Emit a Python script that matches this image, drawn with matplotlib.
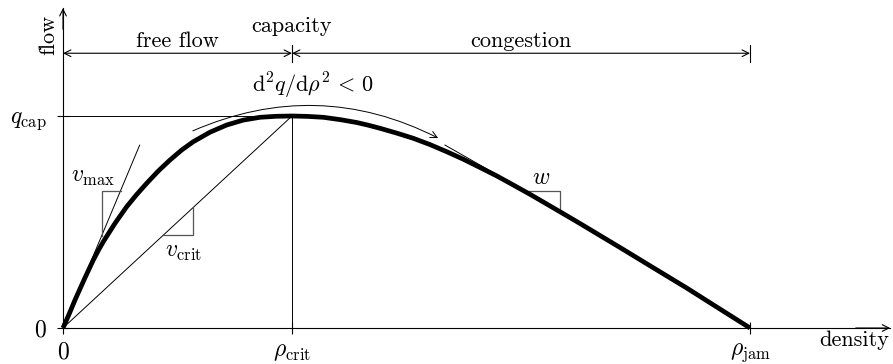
import matplotlib
matplotlib.use('Agg')
import matplotlib.pyplot as plt

plt.rcParams['font.family'] = ['cmr10']
plt.rcParams['mathtext.fontset'] = 'cm'
plt.rcParams['axes.unicode_minus'] = False
plt.rcParams['font.size'] = 16

# density scaled by rho_jam, flow scaled by q_cap
rho_crit = 1 / 3
rho_jam = 1.0
q_cap = 1.0

# thick fundamental diagram
rho_free = [0, 0.00902, 0.01747, 0.03086, 0.04410, 0.05138, 0.05866, 0.07569, 0.09272,
            0.10728, 0.12183, 0.13872, 0.15575, 0.17278, 0.18967, 0.21397, 0.23828,
            0.26245, 0.28675, 0.31033, 0.3333]
q_free = [0, 0.0665, 0.1321, 0.2288, 0.3208, 0.3656, 0.4071, 0.4939, 0.5722,
          0.6297, 0.6825, 0.7406, 0.7925, 0.8396, 0.8788, 0.9236, 0.9575,
          0.9807, 0.9939, 0.9986, 1.0]
rho_cong = [0.3333, 0.35604, 0.37889, 0.40320, 0.42751, 0.44440, 0.46143, 0.48574,
            0.50990, 0.53421, 0.55852, 0.58268, 0.60699, 0.63130, 0.65546, 0.67977,
            0.70408, 0.72824, 0.75255, 0.78166, 0.81077, 0.85924, 0.90786, 0.95386, 1.0]
q_cong = [1.0, 0.9981, 0.9939, 0.9830, 0.9693, 0.9566, 0.9420, 0.9193,
          0.8948, 0.8651, 0.8316, 0.7962, 0.7571, 0.7175, 0.6745, 0.6307,
          0.5849, 0.5392, 0.4929, 0.4363, 0.3797, 0.2842, 0.1887, 0.0943, 0.0]

# slopes
v_max = 7.73
v_crit = q_cap / rho_crit
w = 1.847
w_rho0, w_q0, w_rho1 = 0.556, 0.863, 0.7234   # tangent in congestion
vmax_tri = (0.0563, 0.0837)
vcrit_tri = (0.146, 0.1897)
w_tri_q = 0.6476

x_ticks = [0, rho_crit, rho_jam]
x_labels = ['$0$', r'$\rho_{\mathrm{crit}}$', r'$\rho_{\mathrm{jam}}$']
y_ticks = [0, q_cap]
y_labels = ['$0$', r'$q_{\mathrm{cap}}$']
regimes = ['free flow', 'capacity', 'congestion']

q_top = 1.296
x_end = 1.204
y_end = 1.509

fig = plt.figure(figsize=(8.93, 3.64), dpi=100)
ax = fig.add_axes([0, 0, 1, 1])
ax.set_xlim(-63 / 687, 830 / 687)
ax.set_ylim(-36 / 212, 328 / 212)

ax.spines[['top', 'right']].set_visible(False)
ax.spines['left'].set_position(('data', 0))
ax.spines['bottom'].set_position(('data', 0))
ax.spines['left'].set_bounds(0, y_end)
ax.spines['bottom'].set_bounds(0, x_end)
for s in ['left', 'bottom']:
    ax.spines[s].set_linewidth(0.8)
ax.set_xticks(x_ticks, labels=x_labels)
ax.set_yticks(y_ticks, labels=y_labels)
ax.tick_params(direction='inout', length=9, width=0.8, labelsize=17)
ax.tick_params(axis='x', pad=5)
ax.tick_params(axis='y', pad=7)
ax.patch.set_visible(False)

arr = dict(arrowstyle='->', lw=0.8, shrinkA=0, shrinkB=0, mutation_scale=12, color='black')
ax.annotate('', xy=(x_end, 0), xytext=(x_end - 0.05, 0), arrowprops=arr)
ax.annotate('', xy=(0, y_end), xytext=(0, y_end - 0.1), arrowprops=arr)

thin = dict(color='black', lw=0.7)
gray = dict(color='#555555', lw=0.9)

# helper lines at capacity
ax.plot([0, rho_crit], [q_cap, q_cap], **thin)
ax.plot([rho_crit, rho_crit], [0, q_cap], **thin)

# v_max tangent and triangle
ax.plot([0, 0.1116], [0, v_max * 0.1116], **thin)
a, b = vmax_tri
ax.plot([a, a, b], [v_max * a, v_max * b, v_max * b], **gray)
ax.text(0.0437, 0.712, r'$v_{\max}$', ha='center', va='center', fontsize=17)

# v_crit secant and triangle
ax.plot([0, rho_crit], [0, q_cap], **thin)
a, b = vcrit_tri
ax.plot([a, b, b], [v_crit * a, v_crit * a, v_crit * b], **gray)
ax.text(0.176, 0.36, r'$v_{\mathrm{crit}}$', ha='center', va='center', fontsize=17)

# w tangent and triangle
ax.plot([w_rho0, w_rho1], [w_q0, w_q0 - w * (w_rho1 - w_rho0)], **thin)
r0 = w_rho0 + (w_q0 - w_tri_q) / w
ax.plot([r0, w_rho1, w_rho1], [w_tri_q, w_tri_q, w_q0 - w * (w_rho1 - w_rho0)], **gray)
ax.text(0.696, 0.708, '$w$', ha='center', va='center', fontsize=17)

# fundamental diagram
ax.plot(rho_free + rho_cong[1:], q_free + q_cong[1:], color='black', lw=3.4,
        solid_capstyle='butt', solid_joinstyle='round')

# curvature arrow
ax.annotate('', xy=(0.546, 0.896), xytext=(0.189, 0.93),
            arrowprops=dict(arrowstyle='->', lw=0.7, shrinkA=0, shrinkB=0, mutation_scale=12,
                            connectionstyle='arc3,rad=-0.235'))
ax.text(0.364, 1.142, r'$\mathrm{d}^2q/\mathrm{d}\rho^2 \,<\, 0$', ha='center', va='center')

# regimes on top
both = dict(arrowstyle='<->', lw=0.8, shrinkA=0, shrinkB=0, mutation_scale=12, color='black')
ax.annotate('', xy=(rho_crit, q_top), xytext=(0, q_top), arrowprops=both)
ax.annotate('', xy=(rho_jam, q_top), xytext=(rho_crit, q_top), arrowprops=both)
for r in [rho_crit, rho_jam]:
    ax.plot([r, r], [q_top - 0.04, q_top + 0.04], color='black', lw=0.8)
ax.text(rho_crit / 2, 1.325, regimes[0], ha='center', va='baseline')
ax.text(rho_crit, 1.398, regimes[1], ha='center', va='baseline')
ax.text((rho_crit + rho_jam) / 2, 1.325, regimes[2], ha='center', va='baseline')

ax.text(-0.0218, 1.382, 'flow', rotation=90, ha='center', va='center')
ax.text(1.151, -0.06, 'density', ha='center', va='center')

fig.savefig('out.png', dpi=100)
